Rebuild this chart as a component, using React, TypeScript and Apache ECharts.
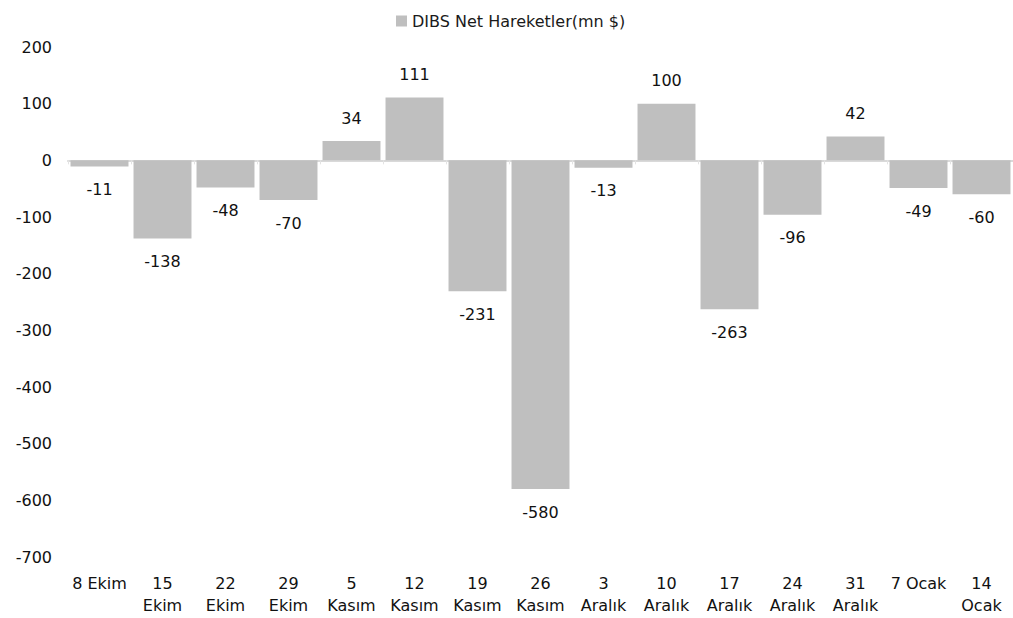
import React, { useEffect, useRef } from "react";
import * as echarts from "echarts";

const categories = [
  "8 Ekim", "15\nEkim", "22\nEkim", "29\nEkim", "5\nKasım", "12\nKasım", "19\nKasım",
  "26\nKasım", "3\nAralık", "10\nAralık", "17\nAralık", "24\nAralık", "31\nAralık", "7 Ocak", "14\nOcak",
];
const values = [-11, -138, -48, -70, 34, 111, -231, -580, -13, 100, -263, -96, 42, -49, -60];
const seriesName = "DIBS Net Hareketler(mn $)";

export default function App() {
  const ref = useRef<HTMLDivElement>(null);
  useEffect(() => {
    document.body.style.margin = "0";
    const chart = echarts.init(ref.current!, undefined, { renderer: "svg" });
    const font = "'DejaVu Sans', sans-serif";
    chart.setOption({
      animation: false,
      textStyle: { fontFamily: font },
      legend: {
        data: [seriesName],
        top: 8,
        left: 391,
        icon: "rect",
        itemWidth: 11,
        itemHeight: 11,
        itemGap: 4,
        textStyle: { fontSize: 16, color: "#1a1a1a", fontFamily: font },
      },
      grid: { left: 68, right: -5, top: 47, bottom: 61 },
      xAxis: [
        {
          type: "category",
          data: categories,
          axisLine: { show: true, onZero: true, lineStyle: { color: "#d9d9d9", width: 2 } },
          axisTick: { show: true, length: 4, lineStyle: { color: "#e3e3e3" } },
          axisLabel: { show: false },
        },
        {
          type: "category",
          data: categories,
          position: "bottom",
          axisLine: { show: false, onZero: false },
          axisTick: { show: false },
          axisLabel: {
            show: true,
            interval: 0,
            fontSize: 16,
            lineHeight: 22,
            color: "#111",
            margin: 15,
            fontFamily: font,
          },
        },
      ],
      yAxis: {
        type: "value",
        min: -700,
        max: 200,
        interval: 100,
        splitLine: { show: false },
        axisLine: { show: false },
        axisTick: { show: false },
        axisLabel: { fontSize: 16, color: "#111", margin: 16, fontFamily: font },
      },
      series: [
        {
          name: seriesName,
          type: "bar",
          xAxisIndex: 0,
          data: values.map((v) => ({
            value: v,
            label: { position: v >= 0 ? "top" : "bottom" },
          })),
          barCategoryGap: "8%",
          itemStyle: { color: "#bfbfbf" },
          label: {
            show: true,
            fontSize: 16,
            color: "#111",
            distance: 15,
            fontFamily: font,
          },
        },
      ],
    });
    return () => chart.dispose();
  }, []);
  return <div ref={ref} style={{ width: 1013, height: 618 }} />;
}
